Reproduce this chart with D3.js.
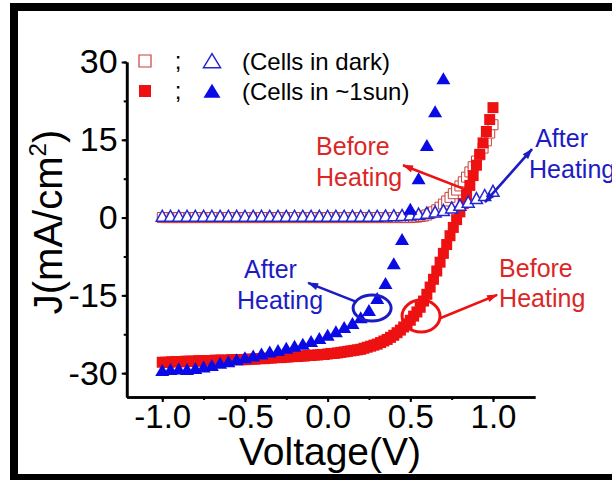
<!DOCTYPE html>
<html><head><meta charset="utf-8">
<script src="https://cdn.jsdelivr.net/npm/d3@7"></script>
<style>
html,body{margin:0;padding:0;background:#fff;}
svg{display:block;font-family:"Liberation Sans",Arial,sans-serif;}
</style></head><body>
<svg id="chart" width="612" height="480"></svg>
<script>
// Voltage sweeps (V): 20 mV steps for the squares, 50 mV steps for the triangles
const voltsFine = d3.range(101).map(i => +(-1 + i * 0.02).toFixed(2));
const voltsCoarse = d3.range(41).map(i => +(-1 + i * 0.05).toFixed(2));

// Current density J (mA/cm²)
// before heating, dark (open squares)
const darkBefore = [
  0,0,0,0,0,0,0,0,0,0, 0,0,0,0,0,0,0,0,0,0,
  0,0,0,0,0,0,0,0,0,0, 0,0,0,0,0,0,0,0,0,0,
  0,0,0,0,0,0,0,0,0,0, 0,0,0,0,0,0,0,0,0,0,
  0,0,0,0,0,0,0,0,0,0, 0,0,0,0,0,0,
  0.1,0.1,0.2,0.3,0.5,0.8,1.1,1.5,2.0,2.6,3.2,3.9,4.6,5.3,6.1,6.9,7.8,8.8,9.8,10.9,12.1,13.4,14.8,16.3,17.9
];
// before heating, ~1 sun (filled squares)
const lightBefore = [
  -27.9,-27.9,-27.9,-27.8,-27.8,-27.8,-27.8,-27.7,-27.7,-27.7,
  -27.7,-27.6,-27.6,-27.6,-27.6,-27.6,-27.5,-27.5,-27.5,-27.5,
  -27.5,-27.4,-27.4,-27.4,-27.4,-27.4,-27.3,-27.3,-27.3,-27.2,
  -27.2,-27.2,-27.1,-27.1,-27.0,-27.0,-27.0,-26.9,-26.9,-26.8,
  -26.8,-26.8,-26.7,-26.7,-26.6,-26.6,-26.5,-26.5,-26.4,-26.4,
  -26.3,-26.2,-26.2,-26.1,-26.0,-25.9,-25.8,-25.7,-25.6,-25.5,
  -25.4,-25.2,-25.0,-24.8,-24.6,
  -24.4,-24.1,-23.8,-23.5,-23.1,-22.7,-22.2,-21.7,-21.1,-20.5,
  -19.8,-19.0,-18.2,-17.3,-16.1,-14.8,-13.4,-11.9,-10.3,-8.6,
  -6.9,-5.2,-3.5,-1.9,-0.4,1.1,2.7,4.4,6.2,8.1,
  10.1,12.2,14.4,16.6,18.9,21.2
];
// after heating, dark (open triangles)
const darkAfter = [
  0,0,0,0,0,0,0,0,0,0, 0,0,0,0,0,0,0,0,0,0, 0,0,0,0,0,0,0,
  0.05,0.1,0.15,0.25,0.4,0.6,0.8,1.1,1.6,2.1,2.7,3.4,4.0,4.8
];
// after heating, ~1 sun (filled triangles), -1.0 V to 0.70 V
const lightAfter = [
  -29.8,-29.6,-29.5,-29.6,-29.4,-29.1,-28.8,-28.4,-28.1,-27.7,
  -27.3,-27.0,-26.6,-26.2,-25.9,-25.5,-25.1,-24.7,-24.2,-23.6,
  -23.0,-22.3,-21.5,-20.7,-19.6,-18.2,-15.9,-13.0,-9.2,-4.5,
  1.3,7.2,13.6,20.1,26.5
];

const xTicks = [-1.0, -0.5, 0.0, 0.5, 1.0];
const xMinorTicks = [-1.0, -0.75, -0.5, -0.25, 0.0, 0.25, 0.5, 0.75, 1.0];
const yTicks = [-30, -15, 0, 15, 30];
const yMinorTicks = [-30, -22.5, -15, -7.5, 0, 7.5, 15, 22.5, 30];

const RED = "#ee1111", RED_TXT = "#dc2626", BLUE = "#0a0ae6", BLUE_TXT = "#1c1cc4";

const svg = d3.select("#chart");
svg.append("rect").attr("width", 612).attr("height", 480).attr("fill", "#fff");
// black frame
svg.append("rect").attr("x", 14).attr("y", 7).attr("width", 700).attr("height", 471)
  .attr("fill", "none").attr("stroke", "#000").attr("stroke-width", 8);

const x = d3.scaleLinear().domain([-1.215, 1.254]).range([126.7, 535]);
const y = d3.scaleLinear().domain([-34.6, 30]).range([397, 62]);

const fmtX = v => v.toFixed(1);
const fmtY = v => String(v);

// axes
const xAxisG = svg.append("g").attr("transform", `translate(0,${y.range()[0]})`);
xAxisG.call(d3.axisBottom(x).tickValues(xMinorTicks).tickFormat("").tickSize(3).tickSizeOuter(0));
const xMajor = svg.append("g").attr("transform", `translate(0,${y.range()[0]})`)
  .call(d3.axisBottom(x).tickValues(xTicks).tickFormat(fmtX).tickSize(5).tickPadding(3).tickSizeOuter(0));
const yAxisG = svg.append("g").attr("transform", `translate(${x.range()[0]},0)`);
yAxisG.call(d3.axisLeft(y).tickValues(yMinorTicks).tickFormat("").tickSize(3).tickSizeOuter(0));
const yMajor = svg.append("g").attr("transform", `translate(${x.range()[0]},0)`)
  .call(d3.axisLeft(y).tickValues(yTicks).tickFormat(fmtY).tickSize(5).tickPadding(4).tickSizeOuter(0));

svg.selectAll(".domain").attr("stroke", "#000").attr("stroke-width", 2.6);
svg.selectAll(".tick line").attr("stroke", "#000").attr("stroke-width", 2);
xMajor.selectAll("text").attr("font-size", 33).attr("fill", "#000").attr("font-family", "Liberation Sans, Arial, sans-serif");
yMajor.selectAll("text").attr("font-size", 34).attr("fill", "#000").attr("font-family", "Liberation Sans, Arial, sans-serif");

// axis titles
svg.append("text").attr("x", 330).attr("y", 465).attr("text-anchor", "middle")
  .attr("font-size", 39).attr("fill", "#000").text("Voltage(V)");
const yt = svg.append("text").attr("transform", "translate(62,222) rotate(-90)")
  .attr("text-anchor", "middle").attr("font-size", 40).attr("fill", "#000");
yt.append("tspan").text("J(mA/cm");
yt.append("tspan").attr("font-size", 24).attr("dy", -16).text("2");
yt.append("tspan").attr("dy", 16).text(")");

// marker shapes
const triPath = (w, h) => `M0,${-2 * h / 3}L${w / 2},${h / 3}L${-w / 2},${h / 3}Z`;
const sqPath = s => `M${-s / 2},${-s / 2}h${s}v${s}h${-s}Z`;

const plot = svg.append("g");
const pairs = (xs, ys) => ys.map((j, i) => ({ v: xs[i], j }));

plot.append("g").selectAll("path").data(pairs(voltsFine, darkBefore)).join("path")
  .attr("d", sqPath(10)).attr("transform", d => `translate(${x(d.v)},${y(d.j)})`)
  .attr("fill", "#fff").attr("stroke", "#c9403c").attr("stroke-width", 1);
plot.append("g").selectAll("path").data(pairs(voltsFine, lightBefore)).join("path")
  .attr("d", sqPath(11)).attr("transform", d => `translate(${x(d.v)},${y(d.j)})`)
  .attr("fill", RED);
plot.append("g").selectAll("path").data(pairs(voltsCoarse, darkAfter)).join("path")
  .attr("d", triPath(12, 11)).attr("transform", d => `translate(${x(d.v)},${y(d.j)})`)
  .attr("fill", "#fff").attr("stroke", "#2424d0").attr("stroke-width", 1.5);
plot.append("g").selectAll("path").data(pairs(voltsCoarse, lightAfter)).join("path")
  .attr("d", triPath(14, 12)).attr("transform", d => `translate(${x(d.v)},${y(d.j)})`)
  .attr("fill", BLUE);

// legend
const leg = svg.append("g").attr("font-size", 24).attr("fill", "#000");
leg.append("path").attr("d", sqPath(12)).attr("transform", "translate(145,61)")
  .attr("fill", "#fff").attr("stroke", "#c9403c").attr("stroke-width", 1.2);
leg.append("path").attr("d", sqPath(12)).attr("transform", "translate(145,91)").attr("fill", RED);
leg.append("path").attr("d", triPath(17, 14)).attr("transform", "translate(212,63)")
  .attr("fill", "#fff").attr("stroke", "#2424d0").attr("stroke-width", 1.5);
leg.append("path").attr("d", triPath(17, 14)).attr("transform", "translate(212,93)").attr("fill", BLUE);
leg.append("text").attr("x", 178).attr("y", 69).attr("text-anchor", "middle").text(";");
leg.append("text").attr("x", 178).attr("y", 99).attr("text-anchor", "middle").text(";");
leg.append("text").attr("x", 242).attr("y", 70).text("(Cells in dark)");
leg.append("text").attr("x", 242).attr("y", 100).text("(Cells in ~1sun)");

// annotations, positioned in data units (V, J)
const defs = svg.append("defs");
[["headRed", RED], ["headBlue", BLUE_TXT]].forEach(([id, c]) => {
  defs.append("marker").attr("id", id).attr("viewBox", "0 -5 12 10").attr("refX", 11).attr("refY", 0)
    .attr("markerWidth", 12).attr("markerHeight", 9).attr("markerUnits", "userSpaceOnUse")
    .attr("orient", "auto-start-reverse")
    .append("path").attr("d", "M0,-4L12,0L0,4Z").attr("fill", c);
});

const labels = [
  { t: "Before", v: -0.070, j: 12.0, c: RED_TXT },
  { t: "Heating", v: -0.070, j: 6.0, c: RED_TXT },
  { t: "After", v: 1.255, j: 13.6, c: BLUE_TXT },
  { t: "Heating", v: 1.218, j: 7.6, c: BLUE_TXT },
  { t: "After", v: -0.505, j: -11.6, c: BLUE_TXT },
  { t: "Heating", v: -0.548, j: -17.6, c: BLUE_TXT },
  { t: "Before", v: 1.037, j: -11.5, c: RED_TXT },
  { t: "Heating", v: 1.037, j: -17.3, c: RED_TXT }
];
svg.append("g").selectAll("text").data(labels).join("text")
  .attr("x", d => x(d.v)).attr("y", d => y(d.j)).attr("font-size", 25)
  .attr("fill", d => d.c).text(d => d.t);

const arrows = [
  { v1: 0.843, j1: 5.3, v2: 0.456, j2: 10.1, c: RED, m: "headRed", both: false },
  { v1: 0.952, j1: 3.0, v2: 1.236, j2: 13.2, c: BLUE_TXT, m: "headBlue", both: true },
  { v1: 0.178, j1: -16.3, v2: -0.118, j2: -12.6, c: BLUE_TXT, m: "headBlue", both: false },
  { v1: 0.680, j1: -19.4, v2: 1.025, j2: -14.9, c: RED, m: "headRed", both: false }
];
svg.append("g").selectAll("line").data(arrows).join("line")
  .attr("x1", d => x(d.v1)).attr("y1", d => y(d.j1)).attr("x2", d => x(d.v2)).attr("y2", d => y(d.j2))
  .attr("stroke", d => d.c).attr("stroke-width", 2.6)
  .attr("marker-end", d => `url(#${d.m})`)
  .attr("marker-start", d => d.both ? `url(#${d.m})` : null);

const rings = [
  { v: 0.269, j: -17.45, rx: 19, ry: 13, c: BLUE_TXT },
  { v: 0.565, j: -19.0, rx: 19, ry: 16, c: RED }
];
svg.append("g").selectAll("ellipse").data(rings).join("ellipse")
  .attr("cx", d => x(d.v)).attr("cy", d => y(d.j)).attr("rx", d => d.rx).attr("ry", d => d.ry)
  .attr("fill", "none").attr("stroke", d => d.c).attr("stroke-width", 3);
</script>
</body></html>
